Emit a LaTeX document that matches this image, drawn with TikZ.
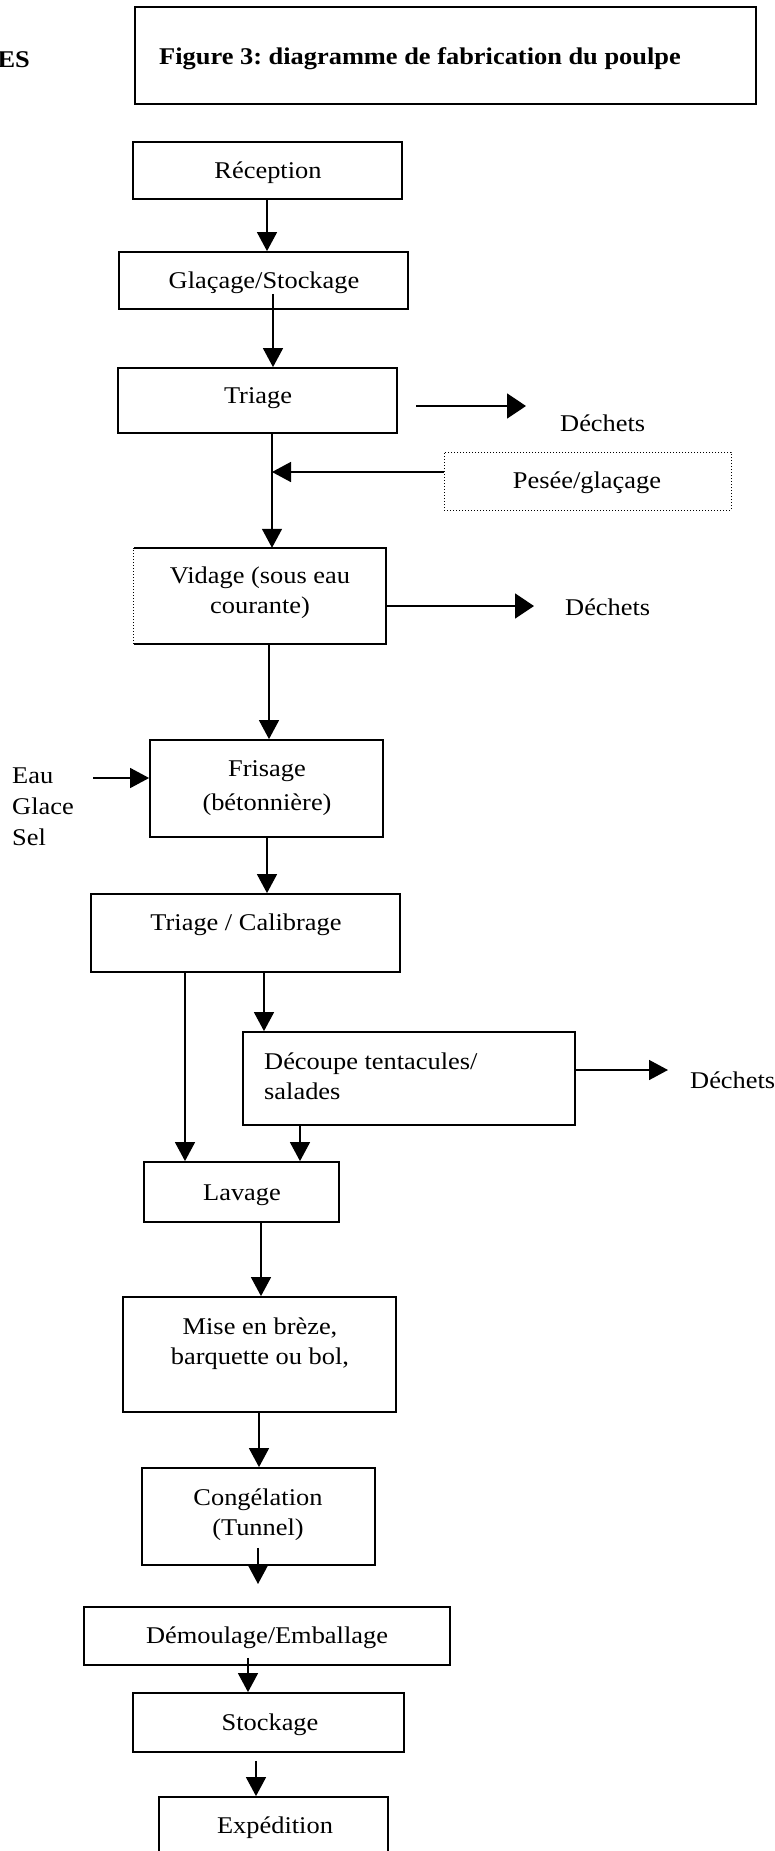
\documentclass[tikz,border=0pt]{standalone}
\usepackage{fontspec}
\setmainfont{Liberation Serif}[FakeStretch=1.1]
\usetikzlibrary{arrows.meta,fit}
\frenchspacing
\begin{document}
\begin{tikzpicture}[x=1pt,y=-1pt,
  box/.style={draw,line width=1.8pt,inner sep=0pt},
  dotbox/.style={draw,line width=1pt,dotted,inner sep=0pt},
  txt/.style={font=\fontsize{24}{30}\selectfont,inner sep=0pt,align=center,yshift=-3pt},
  btxt/.style={font=\fontsize{24}{30}\selectfont\bfseries,inner sep=0pt,yshift=-3pt},
  flow/.style={line width=1.5pt,-{Triangle[length=19pt,width=20pt]}},
  bigflow/.style={line width=1.5pt,-{Triangle[length=19pt,width=25pt]}}]
\useasboundingbox (0,0) rectangle (775,1851);

% title
\node[box,fit={(135,7) (756,104)}] (title) {};
\node[btxt] (ttl) at (420,56) {Figure 3: diagramme de fabrication du poulpe};
\node[btxt,anchor=east] (es) at (30,57) {ES};

% boxes
\node[box,fit={(133,142) (402,199)}] (rec) {};
\node[box,fit={(119,252) (408,309)}] (gla) {};
\node[box,fit={(118,368) (397,433)}] (tri) {};
\node[dotbox,fit={(444,452) (731,510)}] (pes) {};
\node[inner sep=0pt,fit={(134,548) (386,644)}] (vid) {};
\draw[line width=1.8pt] (vid.north west) -- (vid.north east) -- (vid.south east) -- (vid.south west);
\draw[line width=1pt,dotted] (vid.south west) -- (vid.north west);
\node[box,fit={(150,740) (383,837)}] (fri) {};
\node[box,fit={(91,894) (400,972)}] (cal) {};
\node[box,fit={(243,1032) (575,1125)}] (dec) {};
\node[box,fit={(144,1162) (339,1222)}] (lav) {};
\node[box,fit={(123,1297) (396,1412)}] (mis) {};
\node[box,fit={(142,1468) (375,1565)}] (con) {};
\node[box,fit={(84,1607) (450,1665)}] (dem) {};
\node[box,fit={(133,1693) (404,1752)}] (sto) {};
\node[box,fit={(159,1797) (388,1870)}] (exp) {};

% texts
\node[txt] (trec) at (268,170) {Réception};
\node[txt] (tgla) at (264,280) {Glaçage/Stockage};
\node[txt] (ttri) at (258,395) {Triage};
\node[txt,anchor=west] (dch1) at (560,420) {Déchets};
\node[txt] (tpes) at (587,480) {Pesée/glaçage};
\node[txt] (tvid) at (260,590) {Vidage (sous eau\\courante)};
\node[txt,anchor=west] (dch2) at (565,604) {Déchets};
\node[txt] (tfri) at (267,785) {Frisage\\[4pt](bétonnière)};
\node[txt,align=left,anchor=west] (egs) at (12,804) {Eau\\[1pt]Glace\\[1pt]Sel};
\node[txt] (tcal) at (246,922) {Triage / Calibrage};
\node[txt,align=left,anchor=west] (tdec) at (264,1073) {Découpe tentacules/\\salades};
\node[txt,anchor=west] (dch3) at (690,1077) {Déchets};
\node[txt] (tlav) at (242,1192) {Lavage};
\node[txt] (tmis) at (260,1341) {Mise en brèze,\\barquette ou bol,};
\node[txt] (tcon) at (258,1512) {Congélation\\(Tunnel)};
\node[txt] (tdem) at (267,1635) {Démoulage/Emballage};
\node[txt] (tsto) at (270,1722) {Stockage};
\node[txt] (texp) at (275,1825) {Expédition};

% coordinates
\coordinate (d1s) at (416,406);
\coordinate (d1e) at (526,406);
\coordinate (j1) at (272,472);
\coordinate (d2e) at (534,606);
\coordinate (eau) at (93,778);
\coordinate (d3e) at (668,1070);
\coordinate (cend) at (258,1584);

% connectors
\draw[flow] (rec.south -| 267,0) -- (gla.north -| 267,0);
\draw[flow] ([yshift=16pt]gla.south -| 273,0) -- (tri.north -| 273,0);
\draw[bigflow] (d1s) -- (d1e);
\draw[flow] (tri.south -| 272,0) -- (vid.north -| 272,0);
\draw[flow] (pes.west |- j1) -- (j1);
\draw[bigflow] (vid.east |- d2e) -- (d2e);
\draw[flow] (vid.south -| 269,0) -- (fri.north -| 269,0);
\draw[flow] (eau) -- (fri.west |- eau);
\draw[flow] (fri.south -| 267,0) -- (cal.north -| 267,0);
\draw[flow] (cal.south -| 185,0) -- (lav.north -| 185,0);
\draw[flow] (cal.south -| 264,0) -- (dec.north -| 264,0);
\draw[flow] (dec.east |- d3e) -- (d3e);
\draw[flow] (dec.south -| 300,0) -- (lav.north -| 300,0);
\draw[flow] (lav.south -| 261,0) -- (mis.north -| 261,0);
\draw[flow] (mis.south -| 259,0) -- (con.north -| 259,0);
\draw[flow] ([yshift=18pt]con.south -| 258,0) -- (cend);
\draw[flow] ([yshift=8pt]dem.south -| 248,0) -- (sto.north -| 248,0);
\draw[flow] ([yshift=-8pt]sto.south -| 256,0) -- (exp.north -| 256,0);
\end{tikzpicture}
\end{document}
